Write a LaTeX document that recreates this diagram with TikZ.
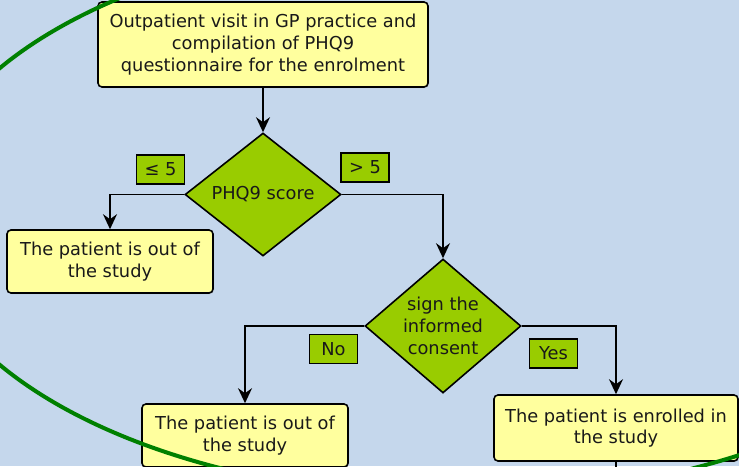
\documentclass[tikz,border=0pt]{standalone}
\usepackage{fontspec}
\setmainfont{DejaVu Sans}
\usepackage{xcolor}
\usetikzlibrary{arrows.meta, positioning, shapes.geometric, shadows}
\definecolor{pagebg}{HTML}{C5D7EC}
\definecolor{noteyellow}{HTML}{FFFF9E}
\definecolor{choicegreen}{HTML}{99CC00}
\definecolor{ringgreen}{HTML}{008000}

\begin{document}
\begin{tikzpicture}[
      x=1pt, y=-1pt,
      font=\fontsize{17.8}{21.8}\selectfont,
      box/.style={draw=black, line width=1.6pt, rounded corners=4pt, fill=noteyellow, align=center, inner sep=0pt, text=black!90, drop shadow={shadow xshift=1pt, shadow yshift=-1pt, opacity=0.25}},
      choice/.style={diamond, aspect=1.16, draw=black, line width=1.6pt, fill=choicegreen, align=center, inner sep=0pt, text=black!90},
      tag/.style={draw=black, line width=1.6pt, fill=choicegreen, inner sep=0pt, minimum height=29pt, minimum width=48pt, text=black!90},
      flow/.style={-{Stealth[length=15pt, width=14pt, inset=5pt]}, line width=1.6pt},
      tail/.style={line width=1.6pt}
    ]
      \fill[pagebg] (0,0) rectangle (739,466);
      \useasboundingbox (0,0) rectangle (739,466);
      \clip (0,0) rectangle (739,466);

      \node[box, minimum width=330pt, minimum height=85pt] (visit) at (263,44.5) {Outpatient visit in GP practice and\\compilation of PHQ9\\questionnaire for the enrolment};
      \node[choice, minimum width=156pt, minimum height=123pt] (score) at (263,194.5) {PHQ9 score};
      \node[box, minimum width=206pt, minimum height=63pt] (outlow) at (110,261.5) {The patient is out of\\the study};
      \node[choice, minimum width=156pt, minimum height=134pt] (consent) at (443,326) {sign the\\informed\\consent};
      \node[box, minimum width=206pt, minimum height=63pt] (outno) at (245,435.5) {The patient is out of\\the study};
      \node[box, minimum width=244pt, minimum height=66pt] (enrol) at (616,428) {The patient is enrolled in\\the study};
      \coordinate (next) at (616,480);

      % branch labels
      \node[tag] (low) at (160.5,169.5) {≤ 5};
      \node[tag] (high) at (365,167.5) {> 5};
      \node[tag] (no) at (333.5,349) {No};
      \node[tag] (yes) at (553.5,353.5) {Yes};

      \draw[flow] (visit) -- (score);
      \draw[flow] (score.west) -| (outlow.north);
      \draw[flow] (score.east) -| (consent.north);
      \draw[flow] (consent.west) -| (outno.north);
      \draw[flow] (consent.east) -| (enrol.north);
      \draw[tail] (enrol.south) -- (next);

      \draw[ringgreen, line width=4pt] (457,216.5) ellipse [x radius=539pt, y radius=280pt];
    \end{tikzpicture}
\end{document}
